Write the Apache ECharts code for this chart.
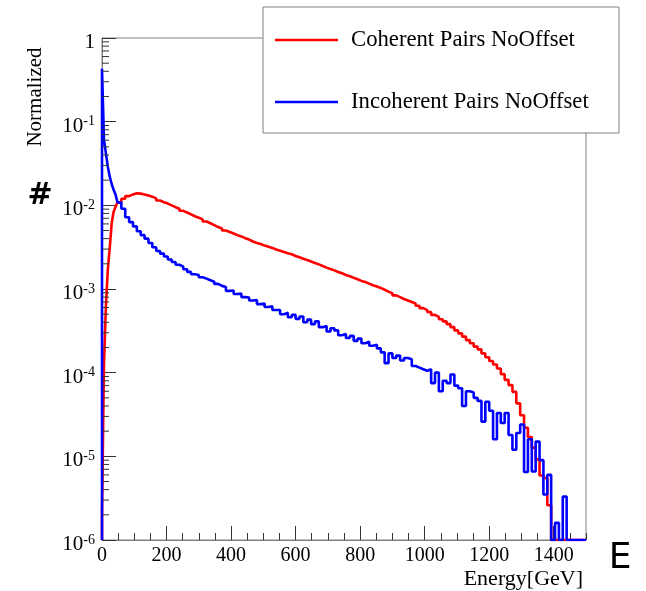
<!DOCTYPE html>
<html>
<head>
<meta charset="utf-8">
<script src="https://cdn.jsdelivr.net/npm/echarts@6/dist/echarts.min.js"></script>
<style>
html,body{margin:0;padding:0;background:#fff;}
#chart{width:646px;height:591px;}
</style>
</head>
<body>
<div id="chart"></div>
<script>
// ---- data ----
const SERIES_NAMES = ['Coherent Pairs NoOffset', 'Incoherent Pairs NoOffset'];
const X_MIN = 0, X_MAX = 1500;
const Y_MIN = 1e-6, Y_MAX = 1;
const X_TICK_LABELS = [0, 200, 400, 600, 800, 1000, 1200, 1400];
const Y_DECADES = [1e-6, 1e-5, 1e-4, 1e-3, 1e-2, 1e-1];
const Y_MINOR_MANTISSAS = [2, 3, 4, 5, 6, 7, 8, 9];

// bin lower edges [GeV]
const EDGES = [
  0, 6, 12, 18, 24, 30, 36, 42,
  48, 60, 72, 84, 96, 108, 120, 132, 144, 156,
  168, 180, 192, 204, 216, 228, 240, 252, 264, 276,
  288, 300, 312, 324, 336, 348, 360, 372, 384, 396,
  408, 420, 432, 444, 456, 468, 480, 492, 504, 516,
  528, 540, 552, 564, 576, 588, 600, 612, 624, 636,
  648, 660, 672, 684, 696, 708, 720, 732, 744, 756,
  768, 780, 792, 804, 816, 828, 840, 852, 864, 876,
  888, 900, 912, 924, 936, 948, 960, 972, 984, 996,
  1008, 1020, 1032, 1044, 1056, 1068, 1080, 1092, 1104, 1116,
  1128, 1140, 1152, 1164, 1176, 1188, 1200, 1212, 1224, 1236,
  1248, 1260, 1272, 1284, 1296, 1308, 1320, 1332, 1344, 1356,
  1368, 1380, 1392, 1404, 1416, 1428, 1440, 1452, 1464, 1476,
  1488
];

const COHERENT = [
  2e-6, 1.2e-4, 6.1e-4, 1.7e-3, 3.1e-3, 6.1e-3, 8.4e-3, 9.6e-3,
  1.09e-2, 1.2e-2, 1.29e-2, 1.35e-2, 1.39e-2, 1.38e-2, 1.35e-2, 1.31e-2, 1.27e-2, 1.21e-2,
  1.14e-2, 1.09e-2, 1.05e-2, 1.0e-2, 9.5e-3, 9.1e-3, 8.6e-3, 8.2e-3, 7.8e-3, 7.4e-3,
  7.1e-3, 6.8e-3, 6.4e-3, 6.1e-3, 5.8e-3, 5.5e-3, 5.3e-3, 5.0e-3, 4.8e-3, 4.6e-3,
  4.4e-3, 4.25e-3, 4.05e-3, 3.9e-3, 3.7e-3, 3.55e-3, 3.45e-3, 3.3e-3, 3.2e-3, 3.1e-3,
  2.97e-3, 2.87e-3, 2.77e-3, 2.67e-3, 2.6e-3, 2.48e-3, 2.4e-3, 2.3e-3, 2.22e-3, 2.13e-3,
  2.05e-3, 1.97e-3, 1.88e-3, 1.8e-3, 1.73e-3, 1.67e-3, 1.6e-3, 1.54e-3, 1.47e-3, 1.42e-3,
  1.36e-3, 1.31e-3, 1.25e-3, 1.21e-3, 1.16e-3, 1.11e-3, 1.07e-3, 1.03e-3, 9.8e-4, 9.3e-4,
  8.9e-4, 8.4e-4, 8.0e-4, 7.6e-4, 7.3e-4, 7.0e-4, 6.7e-4, 6.3e-4, 5.9e-4, 5.6e-4,
  5.3e-4, 4.9e-4, 4.65e-4, 4.35e-4, 4.1e-4, 3.8e-4, 3.5e-4, 3.2e-4, 2.95e-4, 2.7e-4,
  2.45e-4, 2.25e-4, 2.05e-4, 1.9e-4, 1.7e-4, 1.53e-4, 1.38e-4, 1.25e-4, 1.12e-4, 9.6e-5,
  8.2e-5, 7.1e-5, 5.9e-5, 4.3e-5, 3.1e-5, 2.2e-5, 1.7e-5, 1.27e-5, 9.2e-6, 5.9e-6,
  5.5e-6, 2.6e-6, 0, 0, 0, 0, 0, 0, 0, 0,
  0
];

const INCOHERENT = [
  0.43, 0.062, 0.042, 0.029, 0.022, 0.018, 0.0153, 0.0135,
  1.08e-2, 9.1e-3, 7.2e-3, 6.3e-3, 5.6e-3, 4.9e-3, 4.4e-3, 4.0e-3, 3.55e-3, 3.15e-3,
  2.85e-3, 2.65e-3, 2.45e-3, 2.25e-3, 2.1e-3, 1.95e-3, 1.85e-3, 1.72e-3, 1.6e-3, 1.5e-3,
  1.47e-3, 1.38e-3, 1.33e-3, 1.27e-3, 1.22e-3, 1.15e-3, 1.09e-3, 1.06e-3, 9.5e-4, 9.6e-4,
  8.7e-4, 8.8e-4, 8.0e-4, 7.9e-4, 7.3e-4, 7.4e-4, 6.6e-4, 6.7e-4, 6.1e-4, 6.2e-4,
  5.6e-4, 5.6e-4, 5.0e-4, 5.2e-4, 4.6e-4, 4.9e-4, 4.4e-4, 4.7e-4, 4.0e-4, 4.3e-4,
  3.8e-4, 4.1e-4, 3.5e-4, 3.6e-4, 3.1e-4, 3.4e-4, 3.2e-4, 2.8e-4, 2.9e-4, 2.6e-4,
  2.75e-4, 2.4e-4, 2.55e-4, 2.25e-4, 2.35e-4, 2.1e-4, 2.15e-4, 1.95e-4, 1.75e-4, 1.3e-4,
  1.7e-4, 1.5e-4, 1.6e-4, 1.4e-4, 1.5e-4, 1.45e-4, 1.2e-4, 1.15e-4, 1.1e-4, 1.05e-4,
  1.1e-4, 7.5e-5, 1.0e-4, 6.0e-5, 8.0e-5, 7.5e-5, 9.5e-5, 7.0e-5, 6.5e-5, 4.0e-5,
  6.0e-5, 5.8e-5, 5.0e-5, 4.6e-5, 2.6e-5, 4.5e-5, 3.5e-5, 1.6e-5, 3.3e-5, 2.5e-5,
  3.3e-5, 1.8e-5, 1.2e-5, 1.9e-5, 2.4e-5, 6.5e-6, 1.6e-5, 6.6e-6, 1.5e-5, 9e-6,
  3.5e-6, 6e-6, 0, 1.6e-6, 0, 3.3e-6, 0, 0, 0, 0,
  0
];

// ---- build histogram step data (empty bins drawn on the axis floor, as ROOT does) ----
function histData(vals) {
  const n = Math.min(EDGES.length, vals.length);
  const out = [[EDGES[0], Y_MIN]];
  for (let i = 0; i < n; i++) out.push([EDGES[i], vals[i] > 0 ? vals[i] : Y_MIN]);
  const last = vals[n - 1] > 0 ? vals[n - 1] : Y_MIN;
  out.push([X_MAX, last]);
  return out;
}
const minorTickData = [];
Y_DECADES.forEach(d => Y_MINOR_MANTISSAS.forEach(m => minorTickData.push([X_MIN, d * m])));

const SERIF = 'Liberation Serif';
const AXIS_GRAY = '#808080';
const TICK_COLOR = '#333333';

const chart = echarts.init(document.getElementById('chart'), null, {renderer: 'canvas'});
chart.setOption({
  animation: false,
  backgroundColor: '#ffffff',
  grid: {left: 102, right: 60, top: 38, bottom: 51, show: true, borderColor: AXIS_GRAY, borderWidth: 1, containLabel: false},
  xAxis: [
    {
      type: 'value', min: X_MIN, max: X_MAX, interval: 200,
      axisLine: {show: true, lineStyle: {color: AXIS_GRAY, width: 1}},
      axisTick: {show: true, inside: true, length: 14, lineStyle: {color: TICK_COLOR}},
      splitLine: {show: false},
      axisLabel: {
        show: true, margin: 6, color: '#000', fontFamily: SERIF, fontSize: 20,
        showMaxLabel: false,
        formatter: v => (X_TICK_LABELS.indexOf(v) >= 0 ? String(v) : '')
      }
    },
    {
      type: 'value', min: X_MIN, max: X_MAX, interval: 50, position: 'bottom',
      axisLine: {show: false},
      axisTick: {show: true, inside: true, length: 7, lineStyle: {color: TICK_COLOR}},
      splitLine: {show: false},
      axisLabel: {show: false}
    }
  ],
  yAxis: {
    type: 'log', logBase: 10, min: Y_MIN, max: Y_MAX,
    axisLine: {show: true, lineStyle: {color: AXIS_GRAY, width: 1}},
    axisTick: {show: true, inside: true, length: 14, lineStyle: {color: TICK_COLOR}},
    splitLine: {show: false},
    axisLabel: {
      show: true, margin: 7, color: '#000', fontFamily: SERIF, padding: [8, 0, 0, 0],
      formatter: function (v) {
        const n = Math.round(Math.log10(v));
        if (n === 0) return '{b|1}';
        return '{b|10}{s|' + n + '}';
      },
      rich: {
        b: {fontFamily: SERIF, fontSize: 21, color: '#000', lineHeight: 22, verticalAlign: 'bottom'},
        s: {fontFamily: SERIF, fontSize: 14, color: '#000', lineHeight: 22, verticalAlign: 'top'}
      }
    }
  },
  legend: [
    {
      data: [SERIES_NAMES[0]], left: 275, top: 28, orient: 'vertical',
      icon: 'rect', itemWidth: 63, itemHeight: 2.5, selectedMode: false, padding: 0, z: 10,
      textStyle: {fontFamily: SERIF, fontSize: 22.7, color: '#000', lineHeight: 24, padding: [0, 0, 0, 8]}
    },
    {
      data: [SERIES_NAMES[1]], left: 275, top: 90, orient: 'vertical',
      icon: 'rect', itemWidth: 63, itemHeight: 2.5, selectedMode: false, padding: 0, z: 10,
      textStyle: {fontFamily: SERIF, fontSize: 22.7, color: '#000', lineHeight: 24, padding: [0, 0, 0, 8]}
    }
  ],
  graphic: [
    {type: 'rect', z: 5, shape: {x: 263, y: 7, width: 356, height: 126}, style: {fill: '#ffffff', stroke: AXIS_GRAY, lineWidth: 1}},
    {type: 'text', z: 5, x: 35, y: 97, rotation: Math.PI / 2,
      style: {text: 'Normalized', font: '21px "Liberation Serif"', fill: '#000', textAlign: 'center', textVerticalAlign: 'middle'}},
    {type: 'text', z: 5, x: 583, y: 579,
      style: {text: 'Energy[GeV]', font: '22px "Liberation Serif"', fill: '#000', textAlign: 'right', textVerticalAlign: 'middle'}},
    {type: 'text', z: 5, x: 40, y: 196,
      style: {text: '#', font: 'bold 30px "DejaVu Sans"', fill: '#000', textAlign: 'center', textVerticalAlign: 'middle'}},
    {type: 'text', z: 5, x: 620, y: 559,
      style: {text: 'E', font: '36px "DejaVu Sans"', fill: '#000', textAlign: 'center', textVerticalAlign: 'middle'}}
  ],
  series: [
    {
      name: SERIES_NAMES[0], type: 'line', step: 'end', showSymbol: false, symbol: 'none',
      xAxisIndex: 0, yAxisIndex: 0, clip: true, z: 2,
      lineStyle: {color: '#ff0000', width: 2.6}, itemStyle: {color: '#ff0000'},
      data: histData(COHERENT)
    },
    {
      name: SERIES_NAMES[1], type: 'line', step: 'end', showSymbol: false, symbol: 'none',
      xAxisIndex: 0, yAxisIndex: 0, clip: true, z: 3,
      lineStyle: {color: '#0000ff', width: 2.6}, itemStyle: {color: '#0000ff'},
      data: histData(INCOHERENT)
    },
    {
      type: 'custom', xAxisIndex: 0, yAxisIndex: 0, z: 4, silent: true,
      data: minorTickData,
      renderItem: function (params, api) {
        const p = api.coord([api.value(0), api.value(1)]);
        return {type: 'line', shape: {x1: p[0], y1: p[1], x2: p[0] + 7, y2: p[1]}, style: {stroke: TICK_COLOR, lineWidth: 1}};
      }
    }
  ]
});
</script>
</body>
</html>
